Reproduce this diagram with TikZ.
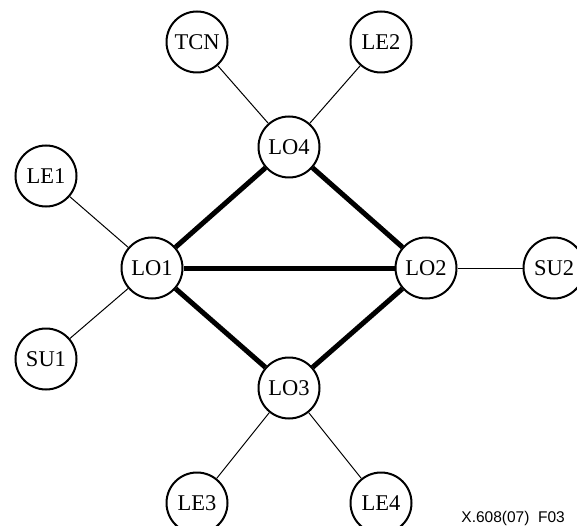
\documentclass[tikz,border=0pt]{standalone}
\usepackage{fontspec}
\setmainfont{Liberation Serif}
\newfontfamily\labelsans{Liberation Sans}
\begin{document}
\begin{tikzpicture}[x=1pt,y=-1pt,
  station/.style={circle,draw,line width=2pt,minimum size=61pt,inner sep=0pt,
    font=\fontsize{22.5}{22.5}\selectfont},
  thinlink/.style={line width=1pt},
  thicklink/.style={line width=5pt}]
  \useasboundingbox (0,0) rectangle (577,526);
  \clip (0,0) rectangle (577,526);
  % stations
  \node[station] (tcn) at (197,42)  {TCN};
  \node[station] (le2) at (381,42)  {LE2};
  \node[station] (lo4) at (289,147) {LO4};
  \node[station] (le1) at (46,176)  {LE1};
  \node[station] (lo1) at (152,268) {LO1};
  \node[station] (lo2) at (426,268) {LO2};
  \node[station] (su2) at (554,268) {SU2};
  \node[station] (su1) at (46,359)  {SU1};
  \node[station] (lo3) at (289,388) {LO3};
  \node[station] (le3) at (197,503) {LE3};
  \node[station] (le4) at (381,503) {LE4};
  % backbone links
  \draw[thicklink] (lo4) -- (lo1);
  \draw[thicklink] (lo4) -- (lo2);
  \draw[thicklink] (lo1) -- (lo2);
  \draw[thicklink] (lo1) -- (lo3);
  \draw[thicklink] (lo3) -- (lo2);
  % access links
  \draw[thinlink] (tcn) -- (lo4);
  \draw[thinlink] (le2) -- (lo4);
  \draw[thinlink] (le1) -- (lo1);
  \draw[thinlink] (su1) -- (lo1);
  \draw[thinlink] (lo2) -- (su2);
  \draw[thinlink] (lo3) -- (le3);
  \draw[thinlink] (lo3) -- (le4);
  % figure reference
  \node[anchor=base east,inner sep=0pt,font=\labelsans\fontsize{15.5}{15.5}\selectfont]
    (ref) at (565,522) {X.608(07)\ \ F03};
\end{tikzpicture}
\end{document}
